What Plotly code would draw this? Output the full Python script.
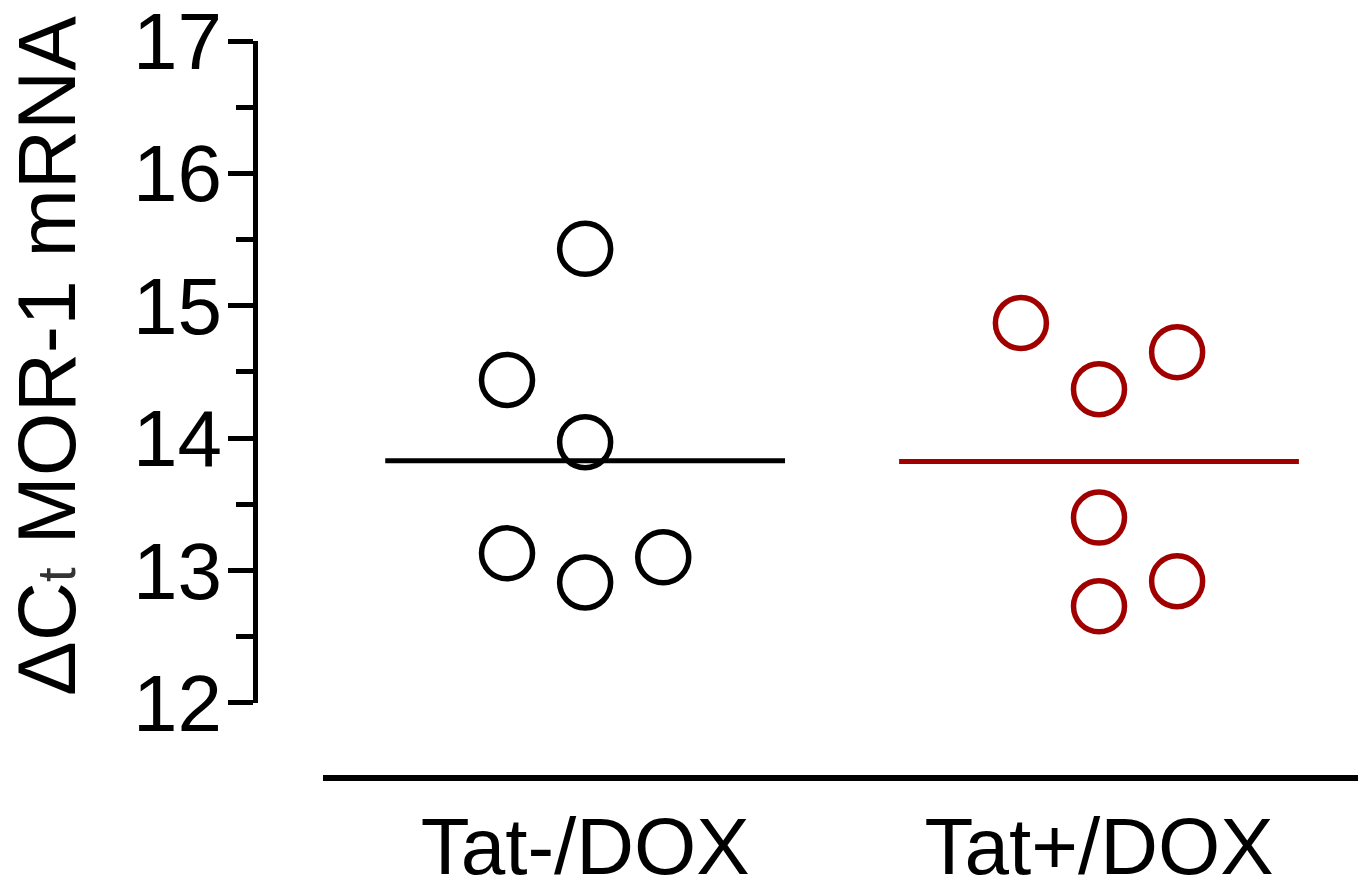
import numpy as np
import plotly.graph_objects as go

# ---- data ----
categories = ["Tat-/DOX", "Tat+/DOX"]
tat_minus_values = [15.43, 14.44, 13.97, 13.13, 12.91, 13.10]
tat_minus_columns = [0, -1, 0, -1, 0, 1]   # scatter column within group
tat_plus_values = [14.87, 14.65, 14.37, 13.40, 12.92, 12.73]
tat_plus_columns = [-1, 1, 0, 0, 1, 0]
y_ticks = [12, 13, 14, 15, 16, 17]

colors = ["#000000", "#A00000"]
col_spacing = 0.152
mean_half = 0.389
FONT = "Liberation Sans, Arial, Helvetica, sans-serif"

groups = [(tat_minus_values, tat_minus_columns), (tat_plus_values, tat_plus_columns)]

fig = go.Figure()
for i, ((vals, cols), c) in enumerate(zip(groups, colors)):
    pos = i + 1
    xs = [pos + k * col_spacing for k in cols]
    m = float(np.mean(vals))
    fig.add_trace(go.Scatter(
        x=[pos - mean_half, pos + mean_half], y=[m, m], mode="lines",
        line=dict(color=c, width=5), showlegend=False, hoverinfo="y"))
    fig.add_trace(go.Scatter(
        x=xs, y=vals, mode="markers",
        marker=dict(symbol="circle-open", size=51, color=c, line=dict(width=5.5, color=c)),
        showlegend=False, hoverinfo="y"))

fig.update_layout(
    width=1365, height=882,
    margin=dict(l=255, r=7, t=41, b=104, autoexpand=False),
    paper_bgcolor="white", plot_bgcolor="white",
    font=dict(family=FONT, color="black"),
    xaxis=dict(
        domain=[0.0617, 1], range=[0.49, 2.504],
        anchor="free", position=0, automargin=False,
        showline=True, linecolor="black", linewidth=6,
        showgrid=False, zeroline=False,
        tickmode="array", tickvals=[1, 2], ticktext=categories,
        ticks="", tickfont=dict(size=80, family=FONT, color="black"),
        ticklabelstandoff=-3,
    ),
    yaxis=dict(
        domain=[0.1018, 1], range=[12, 17],
        anchor="free", position=0, automargin=False,
        showline=True, linecolor="black", linewidth=5,
        showgrid=False, zeroline=False,
        tickmode="array", tickvals=y_ticks,
        ticks="outside", ticklen=25, tickwidth=5, tickcolor="black",
        tickfont=dict(size=80, family=FONT, color="black"),
        ticklabeloverflow="allow", ticklabelstandoff=-10,
        minor=dict(ticks="outside", ticklen=17, tickwidth=5, tickcolor="black",
                   dtick=0.5, tick0=12, showgrid=False),
    ),
    annotations=[dict(
        text='ΔC<span style="font-size:53px;color:#333333">t</span> MOR-1 mRNA',
        xref="paper", yref="paper", x=-0.1886, y=0.5726,
        xanchor="center", yanchor="middle", textangle=-90,
        showarrow=False, font=dict(size=82, family=FONT, color="black"))],
)

fig.write_html("out.html", config={"displayModeBar": False},
               post_script="document.body.style.margin='0';document.body.style.overflow='hidden';")
